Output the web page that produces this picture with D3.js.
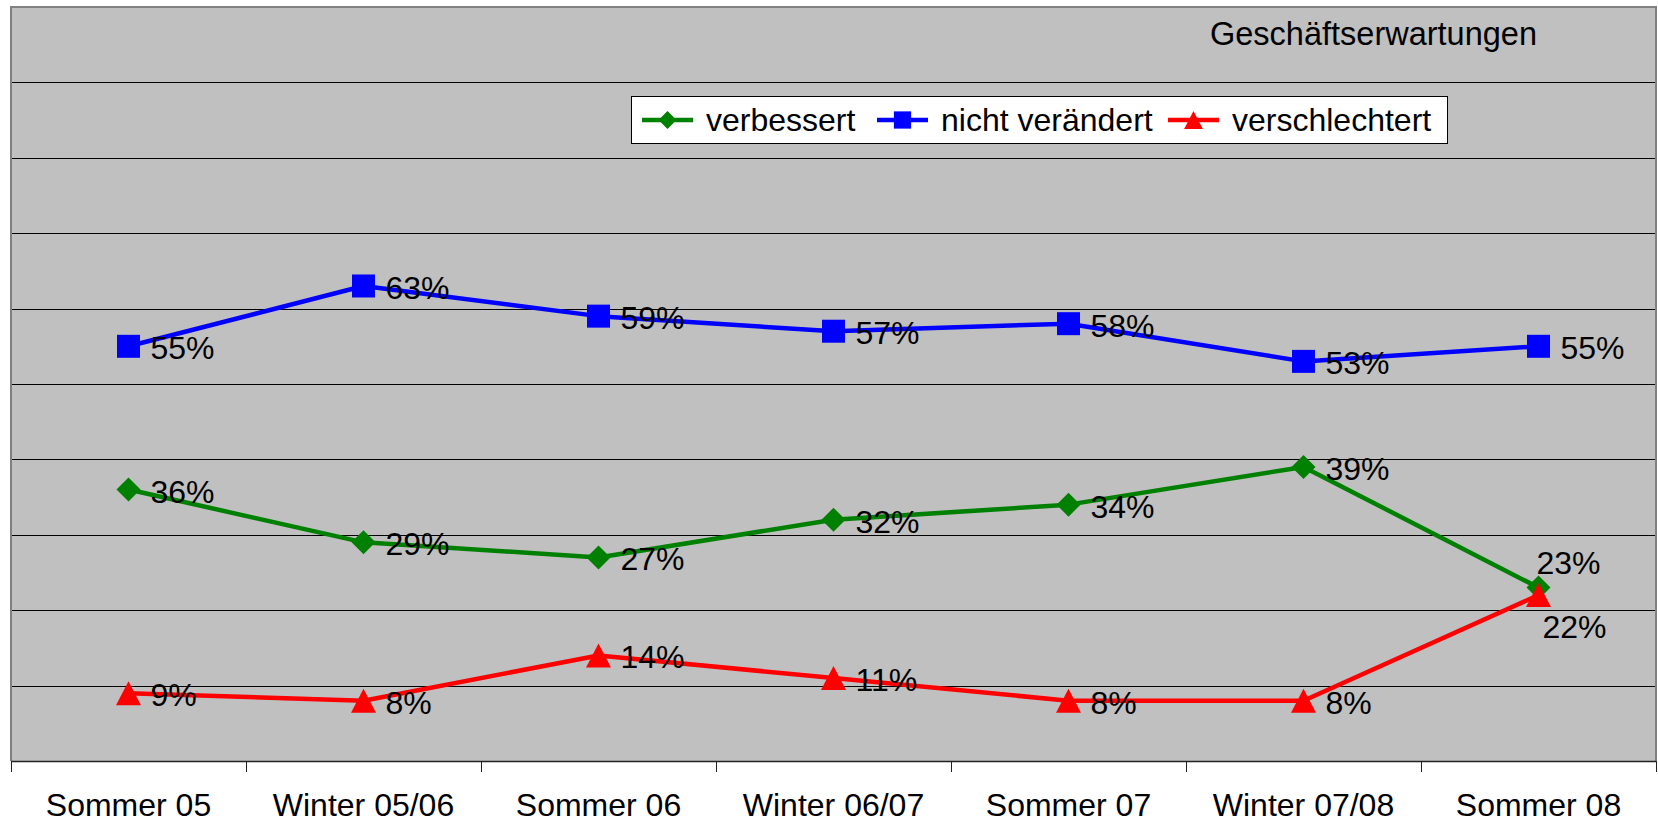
<!DOCTYPE html>
<meta charset="utf-8">
<script src="https://d3js.org/d3.v7.min.js"></script>
<style>
body { margin: 0; background: #fff; }
text { font-family: "Liberation Sans", Arial, sans-serif; fill: #000; }
</style>
<div id="chart"></div>
<script>
// data (percent)
var categories = ["Sommer 05", "Winter 05/06", "Sommer 06", "Winter 06/07", "Sommer 07", "Winter 07/08", "Sommer 08"];
var verbessert = [36, 29, 27, 32, 34, 39, 23];
var nichtVeraendert = [55, 63, 59, 57, 58, 53, 55];
var verschlechtert = [9, 8, 14, 11, 8, 8, 22];
var yTicks = [0, 10, 20, 30, 40, 50, 60, 70, 80, 90, 100];
var title = "Geschäftserwartungen";

var series = [
  { name: "verbessert", values: verbessert, color: "#008000", shape: "diamond", width: 4.5 },
  { name: "nicht verändert", values: nichtVeraendert, color: "#0000ff", shape: "square", width: 4.5 },
  { name: "verschlechtert", values: verschlechtert, color: "#ff0000", shape: "triangle", width: 4.5 }
];

// where the value label sits: r = right, t = above, b = below
var labelPos = {
  "verbessert": ["r", "r", "r", "r", "r", "r", "t"],
  "nicht verändert": ["r", "r", "r", "r", "r", "r", "r"],
  "verschlechtert": ["r", "r", "r", "r", "r", "r", "b"]
};

var W = 1658, H = 823;
var plot = { left: 11, right: 1656, top: 7, bottom: 761 };

var svg = d3.select("#chart").append("svg")
  .attr("width", W)
  .attr("height", H);

var x = d3.scaleBand()
  .domain(categories)
  .range([plot.left, plot.right])
  .padding(0);

var y = d3.scaleLinear()
  .domain([0, 100])
  .range([plot.bottom, plot.top]);

// plot area
svg.append("rect")
  .attr("x", plot.left)
  .attr("y", plot.top)
  .attr("width", plot.right - plot.left)
  .attr("height", plot.bottom - plot.top)
  .attr("fill", "#c0c0c0");

// gridlines
svg.append("g")
  .selectAll("line")
  .data(yTicks.filter(function(d) { return d > 0 && d < 100; }))
  .enter().append("line")
    .attr("x1", plot.left)
    .attr("x2", plot.right)
    .attr("y1", function(d) { return Math.round(y(d)) + 0.5; })
    .attr("y2", function(d) { return Math.round(y(d)) + 0.5; })
    .attr("stroke", "#000")
    .attr("stroke-width", 1);

// plot border (grey top / sides)
svg.append("path")
  .attr("d", "M" + plot.left + "," + plot.bottom + "V" + plot.top + "H" + plot.right + "V" + plot.bottom)
  .attr("fill", "none")
  .attr("stroke", "#808080")
  .attr("stroke-width", 2);

// x axis: line, ticks at band edges, labels at band centres
var xAxis = svg.append("g")
  .attr("transform", "translate(0," + plot.bottom + ")");
xAxis.append("line")
  .attr("x1", plot.left).attr("x2", plot.right)
  .attr("y1", 0.5).attr("y2", 0.5)
  .attr("stroke", "#222").attr("stroke-width", 1.5);
var edges = categories.map(function(c) { return x(c); }).concat([plot.right]);
xAxis.selectAll(".tk")
  .data(edges)
  .enter().append("line")
    .attr("class", "tk")
    .attr("x1", function(d) { return Math.round(d) + 0.5; })
    .attr("x2", function(d) { return Math.round(d) + 0.5; })
    .attr("y1", 0).attr("y2", 11)
    .attr("stroke", "#222");
xAxis.selectAll(".lbl")
  .data(categories)
  .enter().append("text")
    .attr("class", "lbl")
    .attr("x", function(d) { return x(d) + x.bandwidth() / 2; })
    .attr("y", 55)
    .attr("text-anchor", "middle")
    .style("font-size", "32px")
    .text(function(d) { return d; });

function cx(i) { return x(categories[i]) + x.bandwidth() / 2; }

function markerPath(shape) {
  if (shape === "square") return "M-11.5,-11.5H11.5V11.5H-11.5Z";
  if (shape === "diamond") return "M0,-12L12,0L0,12L-12,0Z";
  return "M0,-12L12.5,12H-12.5Z";
}

var line = d3.line()
  .x(function(d, i) { return cx(i); })
  .y(function(d) { return y(d); });

series.forEach(function(s) {
  var g = svg.append("g");
  g.append("path")
    .datum(s.values)
    .attr("d", line)
    .attr("fill", "none")
    .attr("stroke", s.color)
    .attr("stroke-width", s.width)
    .attr("stroke-linejoin", "round");
  g.selectAll(".mk")
    .data(s.values)
    .enter().append("path")
      .attr("class", "mk")
      .attr("transform", function(d, i) { return "translate(" + cx(i) + "," + y(d) + ")"; })
      .attr("d", markerPath(s.shape))
      .attr("fill", s.color);
});

// value labels on top
series.forEach(function(s) {
  svg.append("g").selectAll("text")
    .data(s.values)
    .enter().append("text")
      .attr("x", function(d, i) {
        var p = labelPos[s.name][i];
        return cx(i) + (p === "r" ? 22 : p === "t" ? -2 : 4);
      })
      .attr("y", function(d, i) {
        var p = labelPos[s.name][i];
        return y(d) + (p === "r" ? 13 : p === "t" ? -14 : 43);
      })
      .style("font-size", "32px")
      .text(function(d) { return d + "%"; });
});

// title
svg.append("text")
  .attr("x", 1210)
  .attr("y", 45)
  .style("font-size", "32.5px")
  .text(title);

// legend
var legend = svg.append("g");
legend.append("rect")
  .attr("x", 631.5).attr("y", 96.5)
  .attr("width", 816).attr("height", 47)
  .attr("fill", "#fff")
  .attr("stroke", "#000")
  .attr("stroke-width", 1);
var legendX = [642, 877, 1168];
series.forEach(function(s, i) {
  var lx = legendX[i], ly = 120;
  legend.append("line")
    .attr("x1", lx).attr("x2", lx + 51)
    .attr("y1", ly).attr("y2", ly)
    .attr("stroke", s.color)
    .attr("stroke-width", s.width);
  legend.append("path")
    .attr("transform", "translate(" + (lx + 25.5) + "," + ly + ") scale(0.75)")
    .attr("d", markerPath(s.shape))
    .attr("fill", s.color);
  legend.append("text")
    .attr("x", lx + 64)
    .attr("y", ly + 11)
    .style("font-size", "32px")
    .text(s.name);
});
</script>
